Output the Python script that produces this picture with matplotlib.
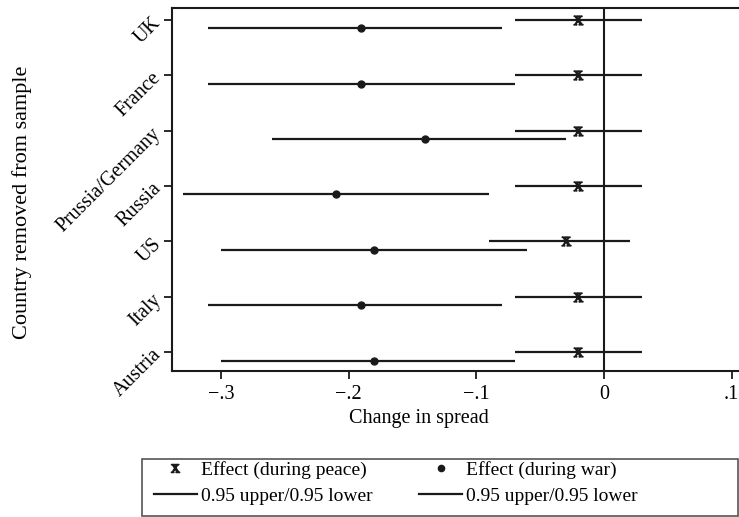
import matplotlib
matplotlib.use("Agg")
import matplotlib.pyplot as plt
from matplotlib.lines import Line2D
from matplotlib.patches import Rectangle
import numpy as np

plt.rcParams['font.family'] = ['Liberation Serif', 'DejaVu Serif']
plt.rcParams['mathtext.fontset'] = 'stix'

countries = ["UK", "France", "Prussia/Germany", "Russia", "US", "Italy", "Austria"]
positions = [7, 6, 5, 4, 3, 2, 1]

peace_effect = [-0.02, -0.02, -0.02, -0.02, -0.03, -0.02, -0.02]
peace_lower = [-0.07, -0.07, -0.07, -0.07, -0.09, -0.07, -0.07]
peace_upper = [0.03, 0.03, 0.03, 0.03, 0.02, 0.03, 0.03]

war_effect = [-0.19, -0.19, -0.14, -0.21, -0.18, -0.19, -0.18]
war_lower = [-0.31, -0.31, -0.26, -0.33, -0.30, -0.31, -0.30]
war_upper = [-0.08, -0.07, -0.03, -0.09, -0.06, -0.08, -0.07]

xticks = [-0.3, -0.2, -0.1, 0.0, 0.1]
xticklabels = ["\u2212.3", "\u2212.2", "\u2212.1", "0", ".1"]

W, H = 739, 517
fig = plt.figure(figsize=(W / 100, H / 100), dpi=100)
ax = fig.add_axes([172 / W, 1 - 371 / H, (W - 172) / W, (371 - 8) / H])

war_off = 0.15
pos = np.array(positions, dtype=float)
ink = '#1a1a1a'

ax.hlines(pos, peace_lower, peace_upper, color=ink, lw=1.6, zorder=2)
ax.plot(peace_effect, pos, ls='none', marker=r'$\mathrm{x}$', ms=6.5, color=ink, zorder=3)
ax.hlines(pos - war_off, war_lower, war_upper, color=ink, lw=1.6, zorder=2)
ax.plot(war_effect, pos - war_off, ls='none', marker='o', ms=5, color=ink, zorder=3)

ax.axvline(0, color=ink, lw=1.5, zorder=1)

ax.set_xlim(-0.3383, 0.1057)
ax.set_ylim(0.662, 7.215)

ax.set_xticks(xticks)
ax.set_xticklabels(xticklabels, fontsize=14.5)
ax.set_yticks(positions)
ax.set_yticklabels(countries, fontsize=14.5, rotation=45, ha='right', va='center',
                   rotation_mode='anchor')

for s in ['left', 'bottom', 'top']:
    ax.spines[s].set_linewidth(1.5)
    ax.spines[s].set_color(ink)
ax.spines['right'].set_visible(False)
ax.tick_params(direction='out', length=6, width=1.3, color=ink, pad=4)

ax.set_xlabel("Change in spread", fontsize=14.5)
ax.xaxis.label.set_va('center')
ax.xaxis.set_label_coords((419 - 172) / (W - 172), -(419 - 371) / (371 - 8))
ax.set_ylabel("Country removed from sample", fontsize=16)
ax.yaxis.label.set_va('center')
ax.yaxis.label.set_ha('center')
ax.yaxis.set_label_coords(-(172 - 22) / (W - 172), (371 - 202) / (371 - 8))

# legend box
fig.patches.append(Rectangle((142 / W, 1 - 516 / H), (738 - 142) / W, (516 - 459) / H,
                             transform=fig.transFigure, fill=False,
                             edgecolor='#555555', lw=1.2))

handles = [
    Line2D([], [], ls='none', marker=r'$\mathrm{x}$', ms=6, color=ink),
    Line2D([], [], color=ink, lw=1.6),
    Line2D([], [], ls='none', marker='o', ms=4.5, color=ink),
    Line2D([], [], color=ink, lw=1.6),
]
labels = ["Effect (during peace)", "0.95 upper/0.95 lower",
          "Effect (during war)", "0.95 upper/0.95 lower"]
fs = 14
leg = fig.legend(handles, labels, ncol=2, loc='upper left',
                 bbox_to_anchor=(152 / W, 1 - 459 / H),
                 fontsize=fs, frameon=False,
                 handlelength=43 / (fs * 100 / 72), handletextpad=0.2,
                 columnspacing=2.4, labelspacing=0.45, borderaxespad=0, borderpad=0.1)

fig.savefig("out.png", dpi=100)
